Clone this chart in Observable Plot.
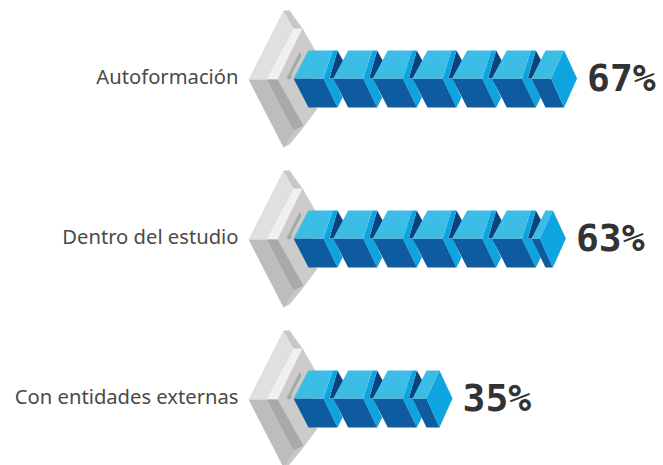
<!DOCTYPE html>
<html>
<head>
<meta charset="utf-8">
<script src="https://cdn.jsdelivr.net/npm/d3@7"></script>
<script src="https://cdn.jsdelivr.net/npm/@observablehq/plot@0.6"></script>
<style>
html,body{margin:0;padding:0;background:#fff}
svg{display:block}
</style>
</head>
<body>
<div id="chart"></div>
<script>
const categories = ["Autoformación", "Dentro del estudio", "Con entidades externas"];
const values = [67, 63, 35];
const valueLabels = ["67%", "63%", "35%"];

const poly = pts => ({draw(ctx){
  pts.forEach(([x,y],i)=> i ? ctx.lineTo(x,y) : ctx.moveTo(x,y));
  ctx.closePath();
}});

// Cube faces (pixel glyphs anchored at the cube's left tip)
const H1 = 28, H2 = 29;
const faceTop = poly([[0,0],[15,-H1],[39,-H1],[30,0]]);
const faceBottom = poly([[0,0],[30,0],[44,H2],[15,H2]]);
const faceBright = poly([[39,-H1],[44,-H1],[36,0],[40,0],[49,19],[44,H2],[30,0]]);
const faceNavy = poly([[44,-H1],[50,-17],[40,0],[36,0]]);

// End cube: its width follows the fraction of the last ten percent
const endFront = v => (v % 10) * 2.8;
const endTop = a => poly([[0,0],[14,-H1],[a+13,-H1],[a,0]]);
const endBottom = a => poly([[0,0],[a,0],[a+13,H2],[14,H2]]);
const endSide = a => poly([[a+13,-H1],[a+26,0],[a+13,H2],[a,0]]);

// Stepped grey pedestal
const greys = [
  {fill:"#c6c6c6", s:poly([[-10,-68],[-4,-68],[9,-50],[19,-30],[19,30],[9,50],[-4,66],[-10,69]])},
  {fill:"#e0e0e0", s:poly([[-45,1],[-10,-68],[0,-50],[-27,1]])},
  {fill:"#bdbdbd", s:poly([[-45,1],[-27,1],[0,52],[-10,69]])},
  {fill:"#cbcbcb", s:poly([[0,-50],[9,-50],[24,-24],[1,1],[24,30],[9,50],[0,52],[-27,1]])},
  {fill:"#f0f0f0", s:poly([[-27,1],[0,-50],[9,-50],[-16,1]])},
  {fill:"#a9a9a9", s:poly([[-27,1],[-16,1],[10,47],[0,52]])},
  {fill:"#a6a6a6", s:poly([[6,-26],[8,-23],[-1,-6],[-3,1],[-7,0]])}
];

const rows = categories.map((category,i)=>({category, value:values[i], label:valueLabels[i]}));
const cubes = rows.flatMap(r => d3.range(Math.floor(r.value/10)).map(k => ({category:r.category, pos:k*10})));
const ends = rows.map(r => ({
  ...r,
  pos: Math.floor(r.value/10)*10,
  front: endFront(r.value)
}));
const start = rows.map(r => ({category:r.category, pos:0}));

const x = "pos", y = "category";
const marks = [];
greys.forEach(g => marks.push(Plot.dot(start,{x,y,symbol:g.s,fill:g.fill})));
marks.push(Plot.dot(cubes,{x,y,symbol:faceNavy,fill:"#0d4179"}));
marks.push(Plot.dot(cubes,{x,y,symbol:faceBright,fill:"#0ea4df"}));
marks.push(Plot.dot(cubes,{x,y,symbol:faceBottom,fill:"#0f5b9f"}));
marks.push(Plot.dot(cubes,{x,y,symbol:faceTop,fill:"#3cbde6"}));
ends.forEach(e => {
  const one = [e];
  marks.push(Plot.dot(one,{x,y,symbol:endBottom(e.front),fill:"#0f5b9f"}));
  marks.push(Plot.dot(one,{x,y,symbol:endTop(e.front),fill:"#3cbde6"}));
  marks.push(Plot.dot(one,{x,y,symbol:endSide(e.front),fill:"#0ea4df"}));
  marks.push(Plot.text(one,{x,y,text:"label",textAnchor:"start",dx:e.front+36,
    fontFamily:"'DejaVu Sans Mono',monospace",fontWeight:700,fontSize:38,fill:"#333"}));
});
marks.push(Plot.text(start,{x,y,text:"category",textAnchor:"end",dx:-55,dy:-1,
  fontFamily:"'Noto Sans',sans-serif",fontSize:20.2,fill:"#4a4a4a"}));

const plot = Plot.plot({
  width:663, height:465, margin:0,
  x:{type:"linear",domain:[0,60],range:[293,531],axis:null},
  y:{type:"point",domain:categories,range:[78,398],padding:0,axis:null},
  marks
});
document.getElementById("chart").append(plot);
</script>
</body>
</html>
